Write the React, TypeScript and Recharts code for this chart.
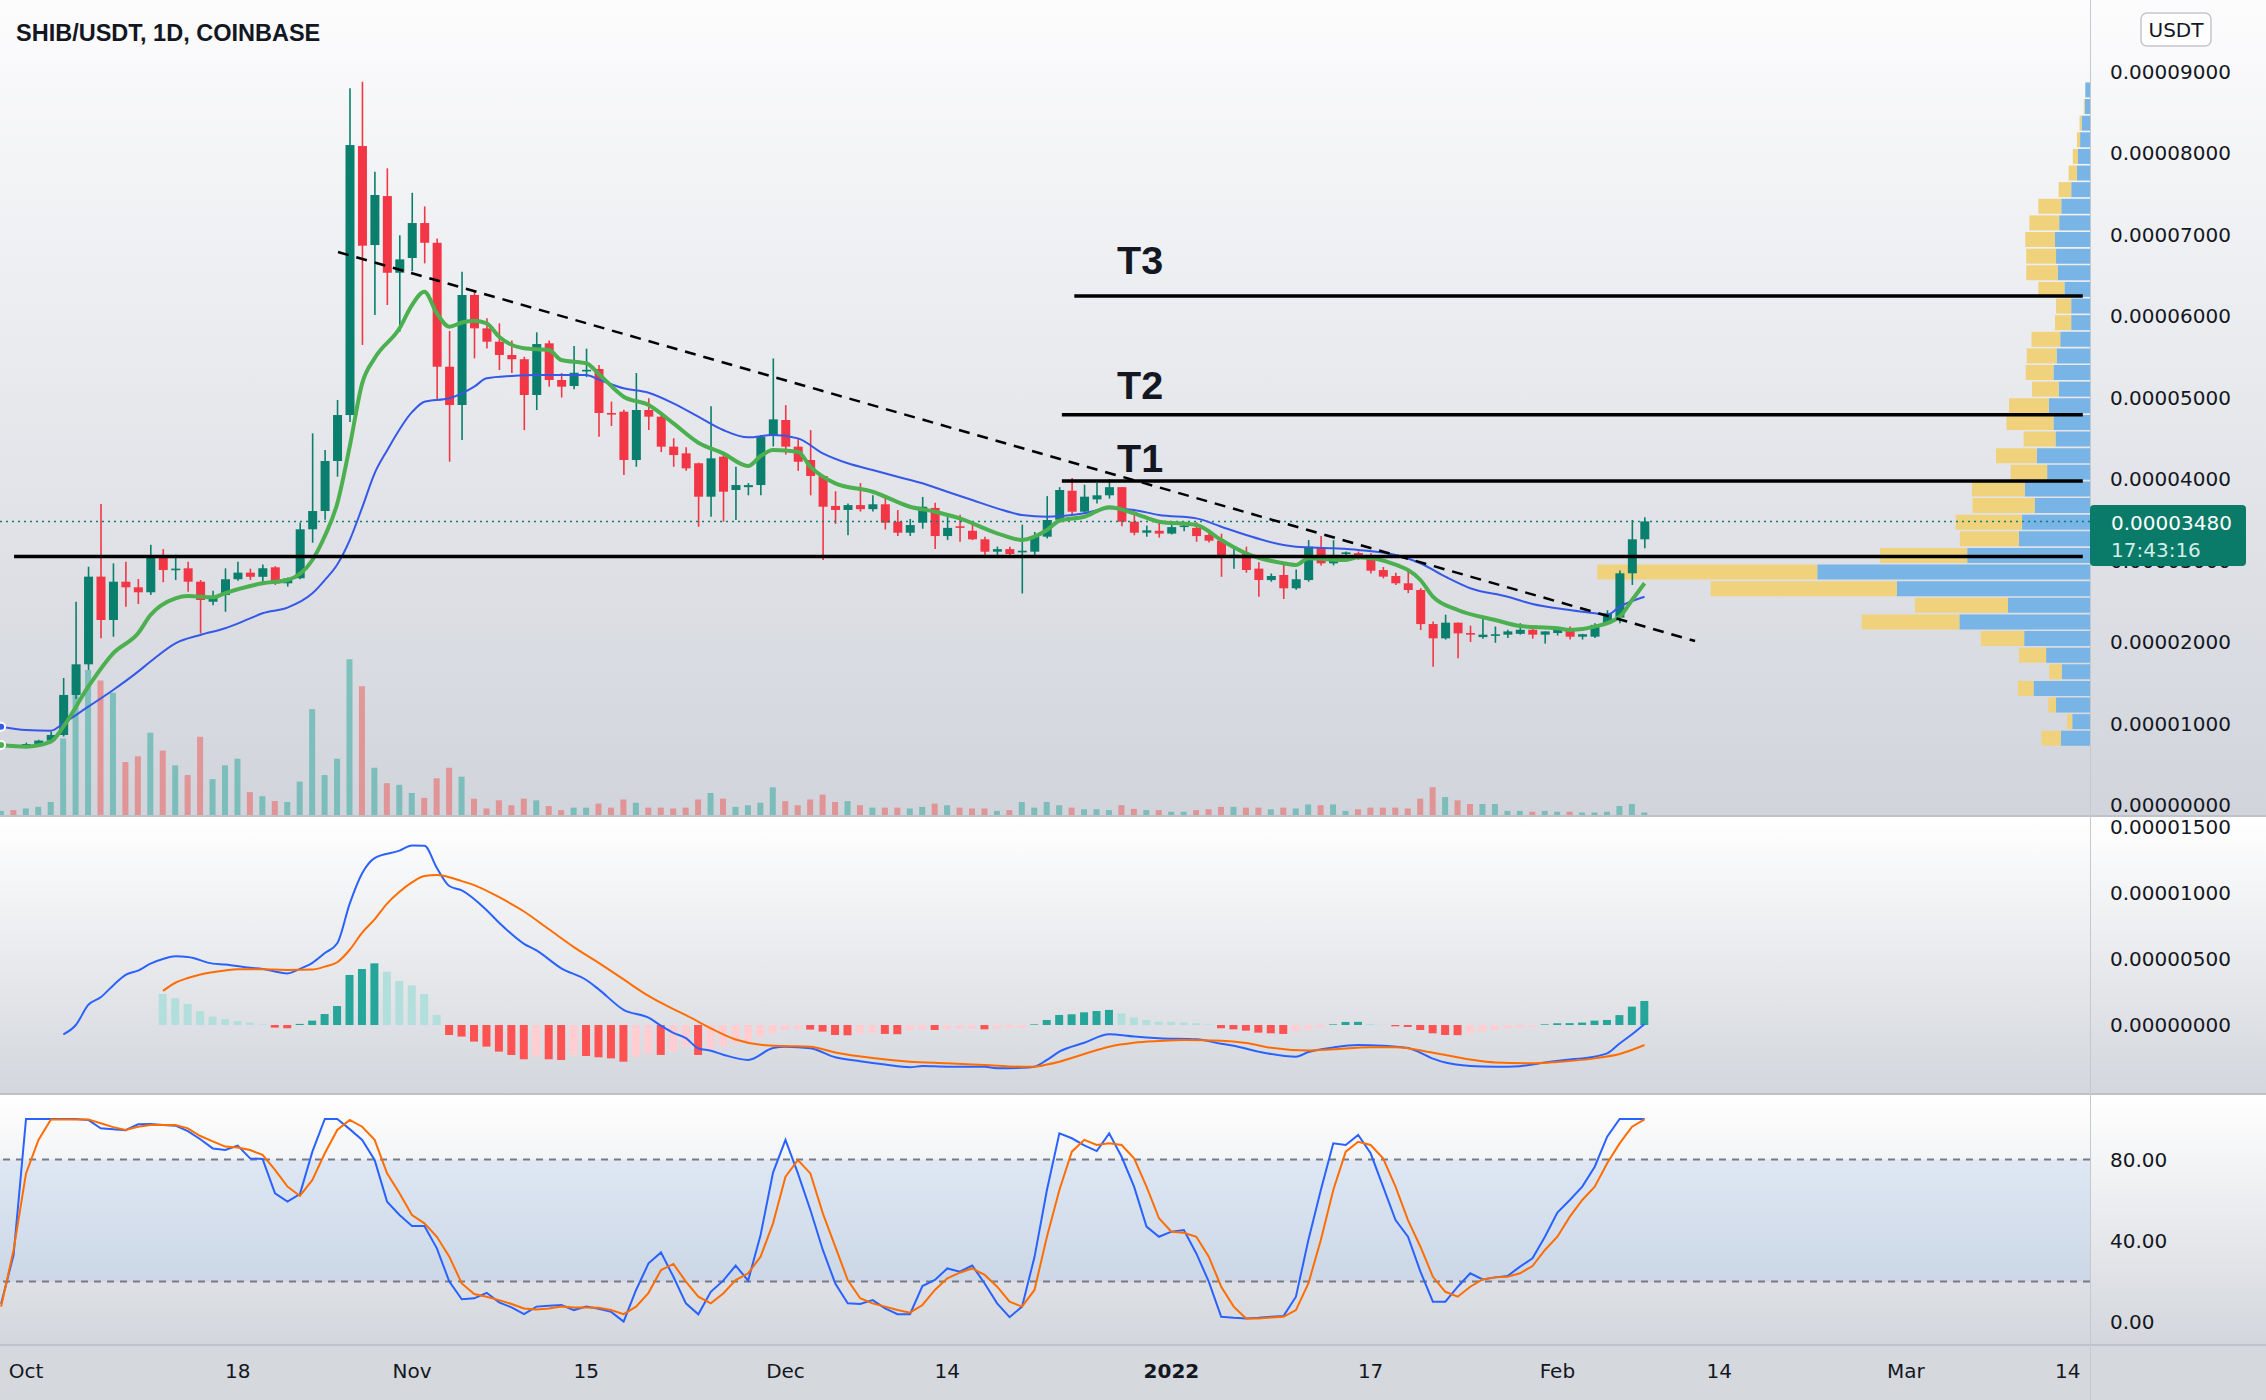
import React from 'react';
import { ComposedChart, Bar, Line, XAxis, YAxis, Cell, ReferenceLine, ReferenceArea } from 'recharts';

// prices and MACD values are in units of 1e-8 USDT
// day 0 = 1 Oct 2021, one candle per day
const FIRST_DAY = -2;

const OPEN = [
  705, 725, 712, 748, 790, 859, 1350, 1726, 2802, 2270,
  2740, 2671, 2610, 3059, 2890, 2904, 2740, 2494, 2577, 2770,
  2851, 2800, 2916, 2720, 2782, 3383, 3607, 4221, 4785, 8086,
  6871, 7472, 6531, 6712, 7141, 6899, 5378, 4908, 6258, 5849,
  5685, 5522, 5470, 5031, 5665, 5215, 5141, 5330, 5350, 4810,
  4826, 4233, 4847, 4765, 4397, 4315, 4193, 3783, 4274, 3865,
  3900, 3926, 4540, 4724, 4397, 4233, 4037, 3670, 3620, 3680,
  3630, 3690, 3476, 3341, 3464, 3645, 3300, 3420, 3365, 3260,
  3108, 3140, 3100, 3108, 3292, 3500, 3856, 3599, 3750, 3800,
  3900, 3476, 3341, 3365, 3330, 3410, 3400, 3313, 3243, 3040,
  3080, 2900, 2760, 2822, 2659, 2760, 3157, 2965, 3080, 3090,
  3050, 2883, 2810, 2720, 2638, 2220, 2045, 2237, 2110, 2060,
  2080, 2090, 2100, 2150, 2090, 2110, 2168, 2065, 2065, 2230,
  2300, 2843, 3260,
];
const HIGH = [
  740, 745, 765, 800, 900, 1558, 2494, 2924, 3693, 2965,
  2985, 2773, 3193, 3140, 3070, 2985, 2760, 2630, 2904, 2985,
  2900, 2950, 2930, 2790, 3465, 4560, 4355, 4969, 8794, 8875,
  7771, 7812, 6990, 7512, 7345, 6950, 5817, 6544, 6319, 5972,
  5910, 5700, 5500, 5800, 5700, 5300, 5632, 5600, 5400, 4950,
  4850, 5300, 4990, 4800, 4500, 4390, 4200, 4892, 4300, 4151,
  3950, 4540, 5480, 4907, 4500, 4600, 4037, 3850, 3700, 3950,
  3800, 3790, 3620, 3510, 3780, 3710, 3540, 3560, 3470, 3290,
  3170, 3170, 3440, 3350, 3790, 3900, 4013, 3930, 3950, 4000,
  3900, 3620, 3430, 3470, 3450, 3470, 3470, 3380, 3330, 3170,
  3170, 2980, 2840, 2960, 2890, 3250, 3300, 3250, 3110, 3110,
  3090, 2920, 2850, 2875, 2660, 2250, 2335, 2240, 2200, 2290,
  2190, 2150, 2230, 2200, 2130, 2180, 2190, 2100, 2230, 2390,
  2877, 3497, 3530,
];
const LOW = [
  690, 700, 700, 735, 770, 840, 1300, 1656, 2045, 2065,
  2433, 2467, 2577, 2733, 2760, 2618, 2106, 2450, 2371, 2750,
  2760, 2720, 2700, 2680, 2770, 3218, 3500, 4028, 4700, 5644,
  6012, 6135, 5808, 6550, 6646, 4969, 4212, 4479, 5481, 5603,
  5337, 5300, 4600, 4846, 5133, 5000, 5100, 5250, 4519, 4650,
  4049, 4150, 4600, 4330, 4150, 4100, 3415, 3538, 3476, 3497,
  3800, 3800, 4400, 4300, 4100, 3800, 3005, 3450, 3310, 3600,
  3600, 3380, 3300, 3300, 3390, 3140, 3250, 3230, 3250, 3030,
  3030, 3030, 2595, 3060, 3270, 3490, 3570, 3570, 3700, 3760,
  3420, 3310, 3290, 3280, 3320, 3360, 3230, 3220, 2800, 2900,
  2850, 2556, 2740, 2528, 2640, 2740, 2940, 2940, 3040, 3010,
  2840, 2780, 2700, 2600, 2147, 1697, 2030, 1800, 2000, 2040,
  1990, 2050, 2090, 2040, 1980, 2080, 2030, 2030, 2050, 2210,
  2230, 2700, 3150,
];
const CLOSE = [
  725, 712, 748, 790, 859, 1350, 1726, 2802, 2270, 2740,
  2671, 2610, 3059, 2883, 2900, 2740, 2515, 2564, 2770, 2851,
  2800, 2905, 2720, 2780, 3383, 3607, 4221, 4785, 8098, 6863,
  7485, 6531, 6695, 7141, 6899, 5378, 4908, 6258, 5849, 5685,
  5522, 5470, 5031, 5656, 5215, 5133, 5304, 5340, 4810, 4800,
  4233, 4847, 4765, 4397, 4294, 4131, 3783, 4254, 3844, 3926,
  3925, 4519, 4732, 4397, 4212, 4037, 3660, 3620, 3680, 3630,
  3690, 3464, 3341, 3435, 3660, 3300, 3400, 3400, 3260, 3108,
  3140, 3080, 3120, 3292, 3497, 3865, 3599, 3783, 3800, 3900,
  3476, 3341, 3370, 3330, 3410, 3430, 3300, 3243, 3040, 3070,
  2883, 2760, 2810, 2659, 2770, 3169, 2965, 3068, 3100, 3050,
  2875, 2802, 2720, 2638, 2220, 2045, 2237, 2106, 2090, 2090,
  2095, 2130, 2150, 2090, 2130, 2160, 2065, 2095, 2210, 2352,
  2843, 3260, 3480,
];
const VOLUME = [
  0.5, 0.6, 0.8, 1.0, 1.6, 9.4, 16, 17.8, 16.5, 15,
  6.5, 7.2, 10.1, 7.9, 6.1, 4.9, 9.6, 4.4, 6.1, 6.9,
  2.8, 2.3, 1.7, 1.6, 4.1, 13, 4.9, 6.9, 19.1, 15.8,
  5.8, 3.9, 3.7, 2.7, 2.1, 4.5, 5.8, 4.7, 2.0, 0.8,
  1.8, 1.2, 2.0, 1.8, 1.1, 0.6, 0.9, 0.9, 1.4, 0.9,
  1.9, 1.5, 0.9, 0.9, 0.8, 0.9, 1.9, 2.7, 2.0, 1.0,
  1.2, 1.5, 3.4, 1.7, 1.2, 1.9, 2.5, 1.6, 1.7, 1.2,
  0.9, 0.9, 0.9, 0.8, 1.0, 1.4, 1.2, 0.9, 0.8, 0.8,
  0.5, 0.6, 1.6, 0.9, 1.6, 1.2, 0.9, 0.7, 0.7, 0.6,
  1.2, 0.75, 0.6, 0.6, 0.4, 0.4, 0.6, 0.7, 1.0, 1.0,
  0.9, 0.9, 0.7, 0.9, 0.8, 1.3, 1.2, 1.3, 0.5, 0.7,
  0.9, 0.9, 0.9, 0.8, 2.0, 3.4, 2.2, 1.8, 1.35, 1.35,
  1.35, 0.5, 0.5, 0.4, 0.5, 0.4, 0.4, 0.3, 0.3, 0.4,
  1.1, 1.35, 0.3,
];

// moving averages: [day, price]
const EMA_FAST = [
  [-2, 736], [0, 716], [2, 777], [3, 961], [5, 1452], [7, 1861], [9, 2107], [10, 2331], [12, 2536], [13, 2564],
  [15, 2548], [16, 2600], [19, 2720], [21, 2761], [23, 3006], [24, 3300], [25, 3700], [26, 4400], [27, 5174], [28, 5481],
  [30, 5849], [31, 6135], [32, 6298], [33, 6033], [34, 5869], [35, 5920], [36, 5943], [37, 5910], [38, 5746], [40, 5604],
  [42, 5583], [43, 5460], [45, 5420], [46, 5290], [48, 5010], [50, 4908], [52, 4683], [54, 4446], [56, 4315], [58, 4160],
  [59, 4282], [60, 4356], [62, 4335], [63, 4151], [65, 3947], [68, 3844], [71, 3660], [73, 3599], [75, 3517], [78, 3334],
  [80, 3252], [82, 3374], [83, 3488], [85, 3537], [87, 3653], [89, 3579], [91, 3476], [94, 3436], [96, 3252], [98, 3088],
  [101, 2966], [102, 2945], [103, 3027], [106, 3006], [107, 3039], [110, 2950], [112, 2761], [113, 2556], [115, 2393], [118, 2270],
  [120, 2196], [123, 2168], [124, 2147], [126, 2188], [128, 2311], [129, 2515], [130, 2720],
];
const EMA_SLOW = [
  [-2, 961], [0, 920], [2, 912], [3, 1002], [5, 1206], [7, 1411], [9, 1636], [10, 1760], [12, 1984], [14, 2086],
  [16, 2168], [18, 2290], [19, 2352], [21, 2421], [23, 2597], [24, 2760], [25, 2950], [26, 3250], [27, 3650], [28, 4070],
  [29, 4350], [31, 4820], [32, 4949], [34, 4990], [36, 5133], [37, 5236], [39, 5264], [41, 5276], [45, 5276], [46, 5220],
  [48, 5113], [50, 5059], [52, 4929], [54, 4765], [56, 4601], [58, 4511], [60, 4540], [62, 4499], [64, 4315], [66, 4193],
  [68, 4110], [70, 4028], [72, 3947], [74, 3844], [76, 3742], [78, 3640], [80, 3558], [82, 3537], [84, 3558], [85, 3579],
  [87, 3640], [89, 3620], [91, 3558], [94, 3517], [96, 3415], [98, 3313], [101, 3190], [102, 3169], [105, 3149], [107, 3129],
  [110, 3068], [112, 2966], [114, 2801], [116, 2659], [119, 2556], [121, 2466], [124, 2393], [126, 2352], [127, 2331], [128, 2433],
  [130, 2556],
];

// MACD (12, 26, 9)
const HIST_FIRST_DAY = 11;
const MACD_HIST = [
  235, 202, 159, 106, 63, 45, 30, 18, 5, -20,
  -25, 8, 33, 83, 144, 379, 424, 467, 404, 333,
  300, 235, 76, -76, -88, -126, -164, -202, -227, -260,
  -240, -260, -265, -227, -235, -245, -253, -278, -240, -220,
  -227, -202, -164, -227, -184, -164, -139, -126, -93, -63,
  -38, -33, -35, -50, -76, -78, -63, -58, -68, -70,
  -43, -33, -38, -33, -28, -27, -33, -28, -23, -22,
  5, 38, 76, 81, 96, 106, 114, 88, 58, 38,
  25, 24, 18, 13, 5, -25, -33, -43, -58, -63,
  -68, -50, -33, -18, 5, 23, 24, 8, 2, -10,
  -15, -38, -63, -76, -77, -63, -50, -38, -28, -23,
  -13, 5, 13, 14, 18, 33, 38, 75, 139, 182,
];
const MACD_LINE = [
  [3, -71], [4, 0], [5, 152], [6, 210], [7, 300], [8, 380], [9, 412], [10, 465], [11, 500], [12, 520],
  [13, 515], [15, 465], [16, 458], [18, 433], [19, 424], [21, 391], [22, 425], [23, 470], [24, 545], [25, 619],
  [26, 920], [27, 1150], [28, 1265], [30, 1321], [31, 1360], [32, 1359], [33, 1190], [34, 1053], [35, 1020], [37, 870],
  [38, 775], [40, 615], [41, 565], [43, 429], [45, 341], [46, 270], [48, 115], [50, 55], [51, -5], [52, -60],
  [53, -100], [54, -177], [55, -195], [56, -225], [58, -265], [60, -175], [61, -165], [63, -177], [65, -245], [67, -275],
  [69, -300], [71, -320], [72, -311], [74, -316], [77, -316], [78, -328], [80, -325], [81, -316], [82, -265], [83, -202],
  [85, -135], [87, -71], [89, -88], [91, -100], [94, -108], [96, -142], [97, -157], [99, -202], [102, -240], [103, -205],
  [105, -170], [107, -152], [109, -158], [111, -175], [113, -255], [114, -285], [116, -310], [118, -316], [120, -312], [122, -285],
  [124, -262], [125, -253], [127, -215], [128, -140], [129, -70], [130, 8],
];
const MACD_SIGNAL = [
  [11, 258], [12, 320], [13, 356], [14, 383], [16, 413], [17, 422], [19, 422], [21, 417], [23, 420], [24, 442],
  [25, 475], [26, 570], [27, 700], [28, 800], [29, 920], [30, 1010], [31, 1080], [32, 1129], [33, 1136], [34, 1120],
  [35, 1090], [36, 1060], [38, 968], [40, 860], [42, 725], [44, 590], [46, 470], [48, 345], [50, 220], [52, 120],
  [53, 75], [55, -25], [57, -110], [59, -150], [61, -160], [63, -165], [65, -208], [68, -250], [71, -278], [74, -290],
  [77, -303], [80, -316], [81, -316], [82, -300], [83, -278], [85, -220], [87, -165], [89, -135], [91, -122], [93, -114],
  [96, -119], [98, -137], [100, -173], [103, -194], [105, -184], [108, -169], [110, -169], [113, -210], [116, -262], [118, -284],
  [121, -290], [123, -280], [126, -253], [128, -220], [130, -152],
];

// Stoch RSI, one value per candle
const STOCH_K = [
  9, 33, 100, 100, 100, 100, 100, 99.5, 95.4, 95,
  94.5, 97.4, 97.5, 97, 96.7, 94, 90, 85.5, 84.7, 86.9,
  80.6, 80.3, 63.4, 59.3, 63, 83.9, 100, 100, 95, 89.7,
  79.8, 59.3, 52.7, 47.3, 47.3, 36.3, 19.9, 11.2, 11.7, 14.4,
  9.7, 7.2, 3.9, 7.6, 8, 8.4, 5.9, 7.6, 6.5, 5,
  0.2, 15.8, 28.9, 34.3, 22.3, 9.2, 3.8, 14.9, 20.4, 27.8,
  20.4, 42.9, 73.6, 89.7, 73.2, 55.2, 35.5, 19, 9.2, 8.9,
  10.8, 6.7, 3.9, 3.9, 17.7, 20.7, 26.4, 24.8, 27.8, 19,
  9.2, 2.4, 7.6, 32, 65, 92.9, 90.5, 87, 84.2, 92.9,
  81.4, 66.7, 47, 42, 44.5, 45.3, 33.8, 19.9, 2.6, 2.1,
  1.8, 2.1, 2.6, 3, 12.5, 40.4, 65, 88, 87.2, 92.1,
  83.1, 66.7, 50.2, 42, 24.8, 10, 10, 17.4, 24, 21,
  22, 22.7, 27.3, 31.4, 42, 53.9, 60.1, 66.7, 76.5, 91.3,
  100, 100, 100,
];
const STOCH_D = [
  7.6, 35.5, 73.2, 89.7, 99.8, 99.8, 99.8, 99.8, 97.9, 96,
  94.6, 96.2, 97, 97, 97, 95.4, 91.6, 89, 86.4, 86,
  84.7, 82.3, 74.9, 66.7, 62.1, 70, 83.1, 94.6, 99.5, 96.2,
  89.7, 73.2, 63.4, 52.7, 48.6, 42, 32.2, 19, 13.8, 12.5,
  10.8, 8.9, 6.7, 6.2, 6.7, 7.6, 7.2, 7.2, 7, 5.9,
  3.9, 7.6, 14.4, 25.6, 28.6, 19.9, 12.5, 9.2, 14.1, 20.7,
  24, 32.2, 48.6, 71.6, 79.8, 73.2, 53.5, 37.1, 20.7, 11.7,
  9.2, 7.6, 5.9, 4.6, 8.4, 15.8, 21.5, 24.3, 26.4, 23.2,
  17.4, 10, 7.6, 15.8, 42, 65, 83.9, 89.7, 87.2, 88,
  87.2, 80.6, 66.7, 51.1, 44.5, 44, 42, 32.2, 17.4, 7.6,
  1.8, 1.8, 2.3, 2.6, 5.9, 19, 40.4, 65, 83.9, 88.8,
  87.2, 80.6, 66.7, 50.2, 37.1, 22.3, 14.9, 12.5, 17.4, 21,
  22, 22.3, 24, 27.6, 35.5, 42, 51.9, 60.1, 66.7, 78.2,
  88, 96.2, 99.8,
];

// visible-range volume profile, lowest row first
const VP_PRICE = [
  821, 1025, 1229, 1433, 1637, 1841, 2045, 2249, 2453, 2657,
  2861, 3065, 3269, 3473, 3677, 3881, 4085, 4289, 4493, 4697,
  4901, 5105, 5309, 5513, 5717, 5921, 6125, 6329, 6533, 6737,
  6941, 7145, 7349, 7553, 7757, 7961, 8165, 8369, 8573, 8777,
];
const VP_UP = [
  0.56, 0.34, 0.65, 1.08, 0.54, 0.84, 1.26, 2.5, 1.57, 3.7,
  5.22, 2.35, 1.36, 1.3, 1.06, 1.25, 0.82, 1.02, 0.66, 0.7,
  0.79, 0.6, 0.7, 0.64, 0.57, 0.36, 0.36, 0.49, 0.62, 0.65,
  0.67, 0.59, 0.55, 0.36, 0.25, 0.23, 0.19, 0.16, 0.1, 0.09,
];
const VP_DOWN = [
  0.37, 0.1, 0.15, 0.3, 0.24, 0.52, 0.83, 1.87, 1.78, 3.56,
  4.21, 1.67, 1.13, 1.27, 1.19, 1.01, 0.7, 0.78, 0.61, 0.9,
  0.76, 0.51, 0.53, 0.57, 0.55, 0.31, 0.29, 0.5, 0.6, 0.57,
  0.57, 0.57, 0.44, 0.24, 0.16, 0.1, 0.06, 0.04, 0.02, 0,
];

// drawings
const SUPPORT = { price: 3050, from: -0.96, to: 165.2 };
const TARGETS = [
  { name: 'T1', price: 3975, from: 83.2 },
  { name: 'T2', price: 4789, from: 83.2 },
  { name: 'T3', price: 6245, from: 84.2 },
];
const TREND = [{ x: 25.06, y: 6785 }, { x: 134.06, y: 2012 }];
const LAST_PRICE = 3480;

const PRICE_TICKS = [0, 1000, 2000, 3000, 4000, 5000, 6000, 7000, 8000, 9000];
const MACD_TICKS = [0, 500, 1000, 1500];
const STOCH_TICKS = [0, 40, 80];
const TICK_DAYS = [0, 17, 31, 45, 61, 74, 92, 108, 123, 136, 151, 164];
const TICK_LABELS = ['Oct', '18', 'Nov', '15', 'Dec', '14', '2022', '17', 'Feb', '14', 'Mar', '14'];

// layout
const W = 2266;
const AXIS_W = 176;
const MAIN_H = 815;
const MACD_TOP = 817;
const MACD_H = 277;
const STOCH_TOP = 1094;
const STOCH_H = 306;
const X_DOMAIN = [-2.09, 165.78];
const PRICE_DOMAIN = [-123, 9878];

const UP = '#0a7f6d';
const DOWN = '#f23645';
const INK = '#131722';
const FONT = 'DejaVu Sans';
const tickStyle = { fontSize: 20, fill: INK, fontFamily: FONT };

const fmt8 = (v: number) => (v * 1e-8).toFixed(8);

const rows = OPEN.map((o, i) => ({
  day: FIRST_DAY + i,
  o,
  h: HIGH[i],
  l: LOW[i],
  c: CLOSE[i],
  vol: VOLUME[i],
  k: STOCH_K[i],
  d: STOCH_D[i],
}));
const histRows = MACD_HIST.map((h, i) => ({ day: HIST_FIRST_DAY + i, h }));
const vpRows = VP_PRICE.map((p, i) => ({ p, up: VP_UP[i], dn: VP_DOWN[i] }));
const pts = (arr: number[][]) => arr.map(([day, v]) => ({ day, v }));

function histColor(i: number) {
  const v = MACD_HIST[i];
  const prev = i > 0 ? MACD_HIST[i - 1] : undefined;
  if (v >= 0) return prev !== undefined && v > prev ? '#26a69a' : '#b2dfdb';
  return prev !== undefined && v < prev ? '#ff5252' : '#ffcdd2';
}

function Candle(props: any) {
  const { x, y, width, height, payload } = props;
  if (!payload || width == null) return null;
  const { o, h, l, c } = payload;
  const top = Math.min(y, y + height);
  const span = Math.abs(height);
  const k = h === l ? 0 : span / (h - l);
  const yO = top + (h - o) * k;
  const yC = top + (h - c) * k;
  const color = c >= o ? UP : DOWN;
  const cx = x + width / 2;
  return (
    <g>
      <line x1={cx} x2={cx} y1={top} y2={top + span} stroke={color} strokeWidth={1.6} />
      <rect x={x} y={Math.min(yO, yC)} width={width} height={Math.max(1.6, Math.abs(yC - yO))} fill={color} />
    </g>
  );
}

function DayTick(props: any) {
  const { x, y, payload } = props;
  const label = TICK_LABELS[TICK_DAYS.indexOf(payload.value)];
  return (
    <text x={x} y={y + 26} textAnchor="middle" dominantBaseline="central" fontSize={20} fontFamily={FONT}
      fontWeight={label === '2022' ? 700 : 400} fill={INK}>
      {label}
    </text>
  );
}

const grad = (a: string, b: string) => `linear-gradient(to bottom, ${a}, ${b})`;

export default function App() {
  return (
    <div style={{ position: 'relative', width: W, height: 1400, overflow: 'hidden', fontFamily: FONT }}>
      <style>{'body{margin:0} .recharts-surface{overflow:visible}'}</style>
      {/* pane backgrounds */}
      <div style={{ position: 'absolute', left: 0, top: 0, width: W, height: MAIN_H, background: grad('#fcfcfd', '#d1d4db') }} />
      <div style={{ position: 'absolute', left: 0, top: MACD_TOP, width: W, height: MACD_H, background: grad('#ffffff', '#d3d6dc') }} />
      <div style={{ position: 'absolute', left: 0, top: STOCH_TOP, width: W, height: 251, background: grad('#ffffff', '#d3d6dc') }} />
      <div style={{ position: 'absolute', left: 0, top: 1345, width: W, height: 55, background: '#d5d8dd' }} />
      <div style={{ position: 'absolute', left: 0, top: MAIN_H, width: W, height: 2, background: '#bfc2c8' }} />
      <div style={{ position: 'absolute', left: 0, top: STOCH_TOP - 1, width: W, height: 2, background: '#bfc2c8' }} />
      <div style={{ position: 'absolute', left: 0, top: 1344, width: W, height: 2, background: '#bfc2c8' }} />
      <div style={{ position: 'absolute', left: W - AXIS_W, top: 0, width: 1, height: 1400, background: '#c5c8cd' }} />

      {/* volume profile */}
      <div style={{ position: 'absolute', left: 0, top: 0 }}>
        <ComposedChart layout="vertical" width={W} height={MAIN_H} data={vpRows}
          margin={{ top: 0, right: AXIS_W, bottom: 0, left: 0 }}>
          <XAxis type="number" hide reversed domain={[0, 40]} allowDataOverflow />
          <YAxis type="number" dataKey="p" hide reversed domain={PRICE_DOMAIN} allowDataOverflow />
          <Bar dataKey="up" stackId="vp" fill="#78b4e6" barSize={15} isAnimationActive={false} />
          <Bar dataKey="dn" stackId="vp" fill="#f0d27d" barSize={15} isAnimationActive={false} />
        </ComposedChart>
      </div>

      {/* price pane */}
      <div style={{ position: 'absolute', left: 0, top: 0 }}>
        <ComposedChart width={W} height={MAIN_H} data={rows} margin={{ top: 0, right: 0, bottom: 0, left: 0 }}>
          <XAxis xAxisId="px" type="number" dataKey="day" hide domain={X_DOMAIN} allowDataOverflow />
          <XAxis xAxisId="vx" type="number" dataKey="day" hide domain={X_DOMAIN} allowDataOverflow />
          <YAxis yAxisId="price" orientation="right" width={AXIS_W} domain={PRICE_DOMAIN} allowDataOverflow
            ticks={PRICE_TICKS} interval={0} tickFormatter={fmt8} axisLine={false} tickLine={false}
            tickSize={0} tickMargin={20} tick={tickStyle} />
          <YAxis yAxisId="vol" hide domain={[0, 100]} allowDataOverflow />
          <Bar dataKey="vol" xAxisId="vx" yAxisId="vol" barSize={6} isAnimationActive={false}>
            {rows.map((r, i) => (
              <Cell key={i} fill={r.c >= r.o ? 'rgba(38,166,154,0.5)' : 'rgba(239,83,80,0.5)'} />
            ))}
          </Bar>
          <ReferenceLine xAxisId="px" yAxisId="price" y={LAST_PRICE} stroke={UP} strokeDasharray="2 4" strokeWidth={1.5} />
          <Bar dataKey={(r: any) => [r.l, r.h]} xAxisId="px" yAxisId="price" barSize={9}
            shape={(p: any) => <Candle {...p} />} isAnimationActive={false} />
          <Line data={pts(EMA_SLOW)} dataKey="v" xAxisId="px" yAxisId="price" type="monotone"
            stroke="#3558e8" strokeWidth={2} dot={false} isAnimationActive={false} />
          <Line data={pts(EMA_FAST)} dataKey="v" xAxisId="px" yAxisId="price" type="monotone"
            stroke="#4caf50" strokeWidth={4} dot={false} isAnimationActive={false} />
          <ReferenceLine xAxisId="px" yAxisId="price"
            segment={[{ x: SUPPORT.from, y: SUPPORT.price }, { x: SUPPORT.to, y: SUPPORT.price }]}
            stroke="#000" strokeWidth={3.5} />
          {TARGETS.map((t) => (
            <ReferenceLine key={t.name} xAxisId="px" yAxisId="price"
              segment={[{ x: t.from, y: t.price }, { x: SUPPORT.to, y: t.price }]}
              stroke="#000" strokeWidth={3.5} />
          ))}
          <ReferenceLine xAxisId="px" yAxisId="price" segment={TREND} stroke="#000" strokeWidth={2.5}
            strokeDasharray="11 8" />
        </ComposedChart>
      </div>

      {/* MACD pane */}
      <div style={{ position: 'absolute', left: 0, top: MACD_TOP }}>
        <ComposedChart width={W} height={MACD_H} data={histRows} margin={{ top: 0, right: 0, bottom: 0, left: 0 }}>
          <XAxis type="number" dataKey="day" hide domain={X_DOMAIN} allowDataOverflow />
          <YAxis orientation="right" width={AXIS_W} domain={[-523, 1576]} allowDataOverflow ticks={MACD_TICKS}
            interval={0} tickFormatter={fmt8} axisLine={false} tickLine={false} tickSize={0} tickMargin={20}
            tick={tickStyle} />
          <Bar dataKey="h" barSize={8} isAnimationActive={false}>
            {histRows.map((_, i) => (
              <Cell key={i} fill={histColor(i)} />
            ))}
          </Bar>
          <Line data={pts(MACD_LINE)} dataKey="v" type="monotone" stroke="#2962ff" strokeWidth={2}
            dot={false} isAnimationActive={false} />
          <Line data={pts(MACD_SIGNAL)} dataKey="v" type="monotone" stroke="#ff6d00" strokeWidth={2}
            dot={false} isAnimationActive={false} />
        </ComposedChart>
      </div>

      {/* Stoch RSI pane + time axis */}
      <div style={{ position: 'absolute', left: 0, top: STOCH_TOP }}>
        <ComposedChart width={W} height={STOCH_H} data={rows} margin={{ top: 0, right: 0, bottom: 0, left: 0 }}>
          <XAxis type="number" dataKey="day" domain={X_DOMAIN} allowDataOverflow ticks={TICK_DAYS} interval={0}
            height={55} axisLine={false} tickLine={false} tickSize={0} tickMargin={0} tick={DayTick} />
          <YAxis orientation="right" width={AXIS_W} domain={[-11.3, 112.3]} allowDataOverflow ticks={STOCH_TICKS}
            interval={0} tickFormatter={(v: number) => v.toFixed(2)} axisLine={false} tickLine={false}
            tickSize={0} tickMargin={20} tick={tickStyle} />
          <ReferenceArea y1={20} y2={80} fill="rgb(110,170,235)" fillOpacity={0.16} stroke="none" />
          <ReferenceLine y={80} stroke="#787b86" strokeDasharray="7 6" strokeWidth={2} />
          <ReferenceLine y={20} stroke="#787b86" strokeDasharray="7 6" strokeWidth={2} />
          <Line dataKey="k" type="linear" stroke="#2962ff" strokeWidth={2} dot={false} isAnimationActive={false} />
          <Line dataKey="d" type="linear" stroke="#ff6d00" strokeWidth={2} dot={false} isAnimationActive={false} />
        </ComposedChart>
      </div>

      {/* texts and labels */}
      <svg width={W} height={1400} style={{ position: 'absolute', left: 0, top: 0, pointerEvents: 'none' }}>
        <text x={16} y={40.7} fontSize={23.5} fontWeight={700} fontFamily="Liberation Sans" fill={INK}>
          SHIB/USDT, 1D, COINBASE
        </text>
        <text x={1117} y={274} fontSize={39.5} fontWeight={700} fontFamily="Liberation Sans" fill={INK}>T3</text>
        <text x={1117} y={399} fontSize={39.5} fontWeight={700} fontFamily="Liberation Sans" fill={INK}>T2</text>
        <text x={1117} y={471.7} fontSize={39.5} fontWeight={700} fontFamily="Liberation Sans" fill={INK}>T1</text>
        <rect x={2141} y={13} width={70} height={33} rx={6} fill="#fff" stroke="#c3c6cc" strokeWidth={1.5} />
        <text x={2176} y={30} textAnchor="middle" dominantBaseline="central" fontSize={20} fontFamily={FONT} fill={INK}>
          USDT
        </text>
        <rect x={2090} y={505} width={156} height={61} rx={4} fill="#0a7b68" />
        <text x={2111} y={523} dominantBaseline="central" fontSize={20} fontFamily={FONT} fill="#ffffff">
          {fmt8(LAST_PRICE)}
        </text>
        <text x={2111} y={550} dominantBaseline="central" fontSize={20} fontFamily={FONT} fill="#d3eee8">
          17:43:16
        </text>
      </svg>
    </div>
  );
}
